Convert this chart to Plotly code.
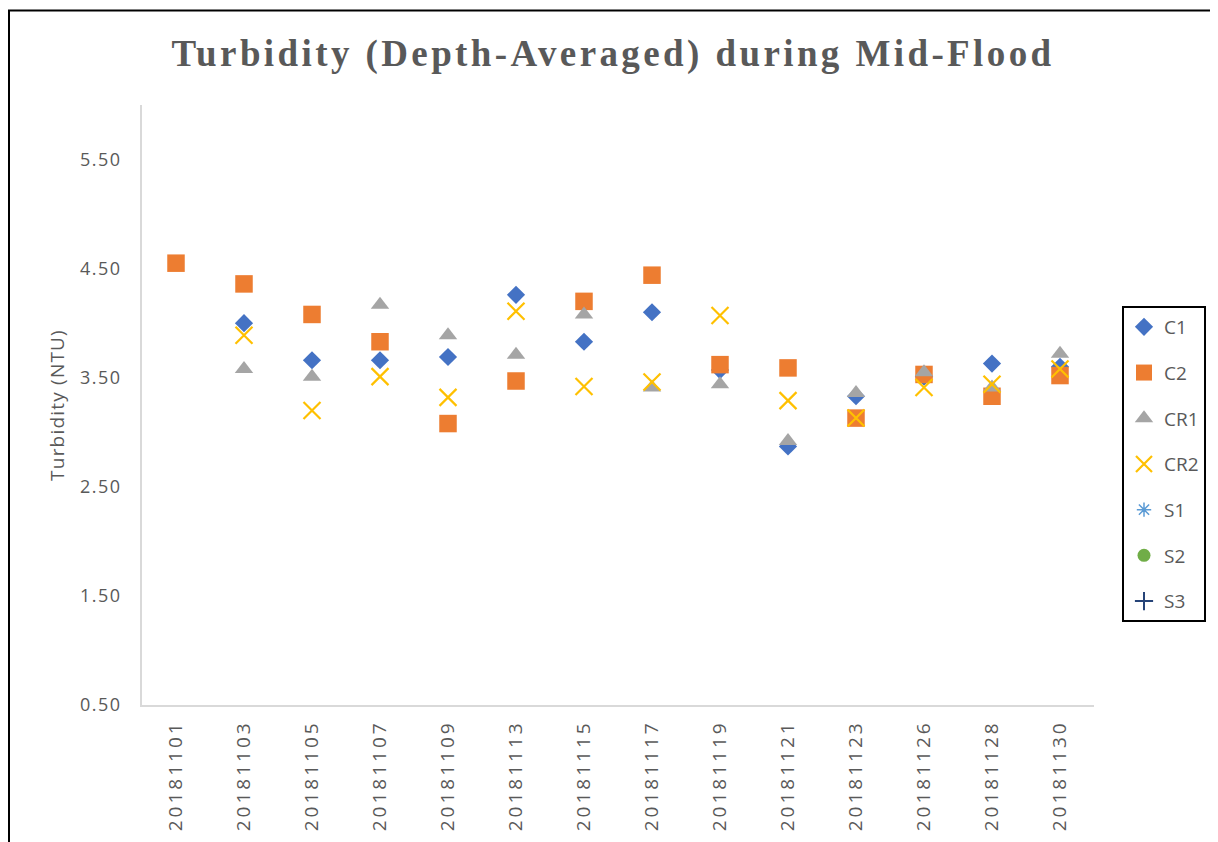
import plotly.graph_objects as go

dates = ["20181101", "20181103", "20181105", "20181107", "20181109", "20181113", "20181115",
         "20181117", "20181119", "20181121", "20181123", "20181126", "20181128", "20181130"]

c1 = [None, 4.00, 3.66, 3.66, 3.69, 4.26, 3.83, 4.10, 3.57, 2.87, 3.33, 3.51, 3.63, 3.60]
c2 = [4.55, 4.36, 4.08, 3.83, 3.08, 3.47, 4.20, 4.44, 3.62, 3.59, 3.13, 3.53, 3.33, 3.52]
cr1 = [None, 3.58, 3.51, 4.17, 3.89, 3.71, 4.08, 3.41, 3.44, 2.92, 3.36, 3.55, 3.41, 3.72]
cr2 = [None, 3.89, 3.20, 3.51, 3.32, 4.11, 3.42, 3.46, 4.07, 3.29, 3.13, 3.41, 3.44, 3.58]
s1 = [None] * 14
s2 = [None] * 14
s3 = [None] * 14

y_ticks = [0.5, 1.5, 2.5, 3.5, 4.5, 5.5]
y_tick_labels = ["0.50", "1.50", "2.50", "3.50", "4.50", "5.50"]

title_text = "Turbidity (Depth-Averaged) during Mid-Flood"
y_title = "Turbidity (NTU)"

TXT = "#595959"
SANS = "Open Sans"

# page body has an 8px margin; figure coordinates are reference minus 8
OFF = 8
W, H = 1218 - OFF, 842 - OFF
PL, PR, PT, PB = 142 - OFF, 1094 - OFF, 105 - OFF, 705 - OFF


def spaced(s, px):
    return '<span style="letter-spacing:%spx">%s</span>' % (px, s)


series = [
    ("C1", c1, dict(symbol="diamond", size=14, color="#4472C4")),
    ("C2", c2, dict(symbol="square", size=17.5, color="#ED7D31")),
    ("CR1", cr1, dict(symbol="triangle-up", size=16, color="#A5A5A5")),
    ("CR2", cr2, dict(symbol="x-thin-open", size=17, color="#FFC000", line=dict(width=2.2, color="#FFC000"))),
    ("S1", s1, dict(symbol="asterisk-open", size=12, color="#5B9BD5", line=dict(width=1.5, color="#5B9BD5"))),
    ("S2", s2, dict(symbol="circle", size=13, color="#70AD47")),
    ("S3", s3, dict(symbol="cross-thin-open", size=13, color="#264478", line=dict(width=2, color="#264478"))),
]

fig = go.Figure()
for name, vals, mk in series:
    fig.add_trace(go.Scatter(
        x=dates, y=vals, mode="markers", name=name, marker=mk,
        legendgroup=name, cliponaxis=False,
    ))

pw, ph = PR - PL, PB - PT

fig.update_layout(
    width=W, height=H, autosize=False,
    margin=dict(l=PL, r=W - PR, t=PT, b=H - PB, pad=0),
    paper_bgcolor="white", plot_bgcolor="white",
    title=dict(
        text="<b>" + spaced(title_text, 3.4) + "</b>",
        font=dict(family="Liberation Serif", size=37, color=TXT),
        x=(613 - OFF) / W, xanchor="center", xref="container",
        y=1 - (53 - OFF) / H, yanchor="middle", yref="container",
    ),
    xaxis=dict(
        type="category", range=[-0.5, 13.5],
        tickmode="array", tickvals=dates, ticktext=[spaced(d, 3) for d in dates],
        tickangle=-90, tickfont=dict(family=SANS, size=19, color=TXT),
        showline=True, linecolor="#D9D9D9", linewidth=1.5,
        showgrid=False, zeroline=False, ticks="", ticklabelstandoff=6,
    ),
    yaxis=dict(
        range=[0.5, 6.0],
        tickmode="array", tickvals=y_ticks, ticktext=[spaced(t, 1.5) for t in y_tick_labels],
        tickfont=dict(family=SANS, size=18, color=TXT),
        showline=True, linecolor="#D9D9D9", linewidth=1.5,
        showgrid=False, zeroline=False, ticks="", ticklabelstandoff=15,
        title=dict(text=spaced(y_title, 1.2), font=dict(family=SANS, size=19, color=TXT), standoff=10),
    ),
    legend=dict(
        x=(1122 - 142) / pw, xanchor="left",
        y=(705 - 306) / ph, yanchor="top",
        bordercolor="black", borderwidth=2, bgcolor="white",
        font=dict(family=SANS, size=19, color=TXT),
        traceorder="grouped", tracegroupgap=18, itemwidth=30,
    ),
    showlegend=True,
)

fig.add_shape(
    type="rect", xref="paper", yref="paper",
    x0=(OFF + 1 - 142) / pw, x1=(1240 - 142) / pw,
    y0=(705 - 870) / ph, y1=(705 - 10.5) / ph,
    line=dict(color="black", width=2), fillcolor="rgba(0,0,0,0)", layer="above",
)

fig.write_html("out.html")
